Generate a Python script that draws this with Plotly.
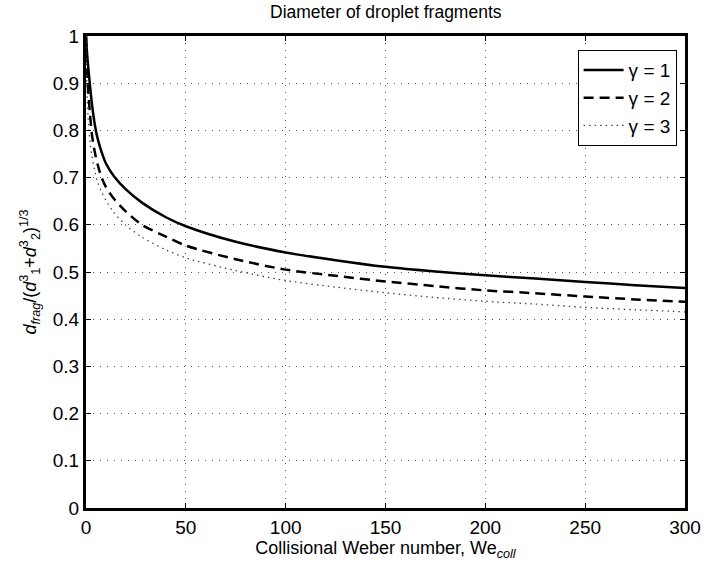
import plotly.graph_objects as go

# Collisional Weber number
we = [0, 0.5, 1, 2, 3, 4.5, 6, 8, 10, 14, 20, 28, 40, 50, 75, 100, 125, 150, 175, 200, 225, 250, 275, 300]

# Normalized fragment diameter for each gamma
d_gamma1 = [1.0, 0.965, 0.94, 0.895, 0.855, 0.81, 0.78, 0.752, 0.73, 0.703, 0.675, 0.647, 0.616, 0.597,
            0.564, 0.5415, 0.525, 0.511, 0.501, 0.493, 0.486, 0.479, 0.472, 0.466]
d_gamma2 = [1.0, 0.93, 0.89, 0.835, 0.79, 0.752, 0.725, 0.698, 0.68, 0.655, 0.628, 0.60, 0.575, 0.556,
            0.527, 0.505, 0.492, 0.48, 0.47, 0.461, 0.455, 0.448, 0.442, 0.437]
d_gamma3 = [1.0, 0.88, 0.83, 0.775, 0.745, 0.712, 0.688, 0.668, 0.652, 0.626, 0.599, 0.574, 0.547, 0.53,
            0.503, 0.482, 0.468, 0.456, 0.446, 0.438, 0.432, 0.425, 0.42, 0.4155]

names = ["γ = 1", "γ = 2", "γ = 3"]

x_ticks = [0, 50, 100, 150, 200, 250, 300]
y_ticks = [0, 0.1, 0.2, 0.3, 0.4, 0.5, 0.6, 0.7, 0.8, 0.9, 1]
y_tick_text = ["0", "0.1", "0.2", "0.3", "0.4", "0.5", "0.6", "0.7", "0.8", "0.9", "1"]

FONT = "Liberation Sans, Arial, sans-serif"

fig = go.Figure()
fig.add_trace(go.Scatter(x=we, y=d_gamma1, mode="lines", name=names[0],
                         line=dict(color="black", width=2.5, dash="solid", shape="spline", smoothing=0.8)))
fig.add_trace(go.Scatter(x=we, y=d_gamma2, mode="lines", name=names[1],
                         line=dict(color="black", width=2.5, dash="10px,6px", shape="spline", smoothing=0.8)))
fig.add_trace(go.Scatter(x=we, y=d_gamma3, mode="lines", name=names[2],
                         line=dict(color="#444444", width=1.3, dash="1.5px,4px", shape="spline", smoothing=0.8)))

axis_common = dict(
    showline=True, linecolor="black", linewidth=3, mirror="ticks",
    ticks="inside", ticklen=5, tickwidth=1, tickcolor="black",
    showgrid=True, gridcolor="#555555", gridwidth=1, griddash="1px,6px",
    zeroline=False, tickfont=dict(family=FONT, size=19, color="black"),
    automargin=False,
)

fig.update_xaxes(range=[0, 300], tickvals=x_ticks, ticktext=[str(v) for v in x_ticks],
                 title=dict(text="Collisional Weber number, We<sub><i>coll</i></sub>",
                            font=dict(family=FONT, size=18, color="black"), standoff=4),
                 **axis_common)
fig.update_yaxes(range=[0, 1], tickvals=y_ticks, ticktext=y_tick_text,
                 title=dict(text="<i>d</i><sub><i>frag</i></sub>/(<i>d</i><sup>3</sup><sub>1</sub>+<i>d</i><sup>3</sup><sub>2</sub>)<sup>1/3</sup>",
                            font=dict(family=FONT, size=18, color="black"), standoff=12),
                 **axis_common)

fig.update_layout(
    width=704, height=571,
    margin=dict(l=86, r=19, t=36, b=63, autoexpand=False),
    paper_bgcolor="white", plot_bgcolor="white",
    title=dict(text="Diameter of droplet fragments", x=0.548, xanchor="center",
               yref="container", y=0.99, yanchor="top",
               font=dict(family=FONT, size=17.5, color="black")),
    legend=dict(x=0.986, xanchor="right", y=0.97, yanchor="top",
                bgcolor="white", bordercolor="black", borderwidth=1,
                font=dict(family=FONT, size=19, color="black"),
                itemwidth=40, tracegroupgap=0),
    showlegend=True,
)

fig.write_html("out.html", config={"displayModeBar": False},
               post_script="document.body.style.margin='0';document.body.style.padding='0';")
